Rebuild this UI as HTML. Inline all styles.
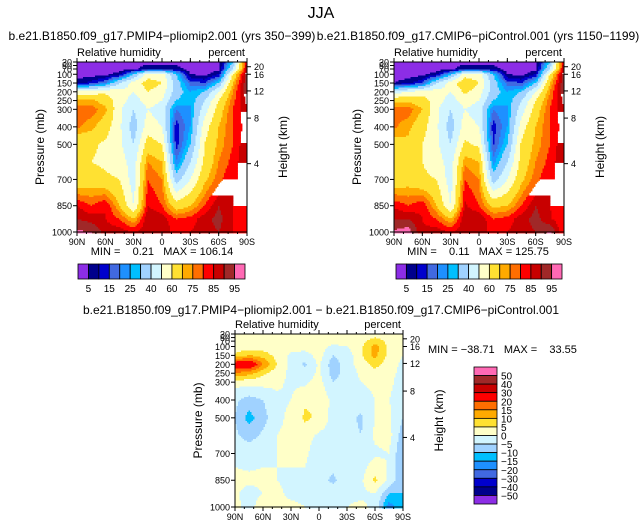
<!DOCTYPE html>
<html><head><meta charset="utf-8"><style>
body{margin:0;background:#fff;}
svg text{font-family:"Liberation Sans",sans-serif;fill:#000;white-space:pre;}
</style></head><body>
<svg id="c" width="643" height="526" viewBox="0 0 643 526" xmlns="http://www.w3.org/2000/svg" xml:space="preserve">
<text x="321" y="18" font-size="16" text-anchor="middle">JJA</text>
</svg>
<script>
const lats=[90,75,60,45,30,15,0,-15,-30,-45,-60,-75,-90];
const levs=[30,70,100,150,200,250,300,400,500,600,700,850,925,1000];
const pliomip=[
[2,2,2,2,2,2,2,2,2,2,2,30,90],
[2,2,2,2,3,10,10,8,2,2,3,40,90],
[2,2,3,8,30,55,55,30,5,3,10,60,95],
[8,12,20,40,55,65,60,35,18,15,30,70,95],
[55,55,58,55,50,60,55,35,25,30,50,75,95],
[72,72,66,55,45,55,50,30,25,40,60,78,92],
[78,78,72,52,40,50,45,20,25,45,65,80,90],
[76,72,65,52,35,55,50,12,25,55,70,80,88],
[62,62,58,52,40,65,60,12,30,60,72,80,90],
[60,60,58,55,45,75,70,20,40,62,75,82,90],
[62,65,62,60,45,80,75,35,50,68,78,85,85],
[85,80,85,70,50,85,80,65,70,80,90,85,80],
[90,88,85,80,70,90,88,80,82,88,92,85,80],
[96,95,88,88,85,88,90,82,85,88,90,85,80]];
const picontrol=[
[2,2,2,2,2,2,2,2,2,2,2,30,90],
[2,2,2,2,3,10,10,8,2,2,3,40,90],
[2,2,3,8,28,55,55,30,5,3,10,60,95],
[5,8,15,40,55,68,60,35,18,15,30,70,95],
[45,50,55,55,50,62,55,35,25,30,50,75,95],
[68,68,65,55,45,55,50,30,25,40,60,78,92],
[77,78,70,52,40,50,45,20,25,45,65,80,90],
[76,72,64,52,35,55,50,12,25,55,70,80,88],
[66,68,60,52,40,62,58,14,30,62,72,80,90],
[62,64,60,55,45,74,70,22,40,64,75,82,90],
[63,66,62,60,45,80,75,35,50,68,78,85,85],
[84,80,84,70,50,86,80,68,70,80,90,85,80],
[90,90,85,80,70,90,90,80,82,88,92,86,80],
[96,98,86,88,85,88,90,82,85,88,90,96,80]];
const diff=[
[2,2,2,2,2,2,2,2,2,2,2,2,0],
[2,2,2,2,2,4,4,2,2,3,8,3,0],
[2,2,2,2,2,2,2,-1,0,4,12,4,0],
[6,10,8,3,-1,-2,2,-5,-3,4,12,3,0],
[25,28,15,5,-2,-6,1,-8,-2,2,7,2,-1],
[15,12,6,2,-1,-3,1,-7,-3,1,3,1,-1],
[2,2,2,1,-1,-1,2,-5,-3,0,1,1,-2],
[-4,-7,-5,-1,0,4,5,-2,-3,-2,0,0,-2],
[-5,-12,-7,-1,1,6,4,-2,-3,-6,0,1,-5],
[-4,-7,-4,0,1,2,-1,-2,-3,-5,1,2,-8],
[-1,-2,-1,0,1,1,-3,-2,-4,-3,-1,0,-10],
[1,1,1,0,-1,-1,-3,-6,-2,-1,6,-1,-10],
[1,-2,0,1,-1,-1,-2,-2,-1,-1,0,-10,-10],
[2,-3,4,1,1,0,-1,-1,0,1,-1,-18,-10]];
const rhLevels=[5,10,15,20,25,30,40,50,60,70,75,80,85,90,95];
const rhLabels=["5","15","25","40","60","75","85","95"];
const diffLevels=[-50,-40,-30,-20,-15,-10,-5,0,5,10,15,20,30,40,50];
const diffLabels=["50","40","30","20","15","10","5","0","\u22125","\u221210","\u221215","\u221220","\u221230","\u221240","\u221250"];
const pTicks=[1000,850,700,500,400,300,250,200,150,100,70,50,30];
const latTicks=[90,60,30,0,-30,-60,-90];
const latLabels=["90N","60N","30N","0","30S","60S","90S"];
const kmTicks=[4,8,12,16,20];
const kmPres=[610,350,195,100,57];
const colors=["#8c2de6","#00008c","#0000cd","#4169e1","#1e90ff","#00bfff","#a0d2ff","#d2f5ff","#ffffc8","#ffe132","#ffaa00","#ff6e00","#ff0000","#c80000","#a02828","#ff69b4"];
const svg=document.getElementById('c');
const NS="http://www.w3.org/2000/svg";
function mk(t,a,p){const e=document.createElementNS(NS,t);for(const k in a)e.setAttribute(k,a[k]);(p||svg).appendChild(e);return e;}
function txt(x,y,s,fs,anchor,p){const e=mk('text',{x:x,y:y,'font-size':fs,'text-anchor':anchor||'start'},p);e.textContent=s;return e;}
function xScale(lat,x0,w){return x0+(90-lat)/180*w;}
function yScale(p,y0,h){return y0+(p-30)/970*h;}
function sample(g,lat,p){
 let i=0;while(i<lats.length-2&&lat<lats[i+1])i++;
 let j=0;while(j<levs.length-2&&p>levs[j+1])j++;
 const tx=(lats[i]-lat)/(lats[i]-lats[i+1]);const ty=(p-levs[j])/(levs[j+1]-levs[j]);
 const a=g[j][i],b=g[j][i+1],c=g[j+1][i],d=g[j+1][i+1];
 return (a*(1-tx)+b*tx)*(1-ty)+(c*(1-tx)+d*tx)*ty;}
function cls(v,L){let k=0;while(k<L.length&&v>=L[k])k++;return k;}
function plot(name,g,L,x0,y0,w,h){
 const gr=mk('g',{});
 
 
 const st=1.5;
 for(let y=0;y<h;y+=st){
  const p=30+(y+st/2)/h*970;let run=-1,start=0;
  for(let x=0;x<=w;x+=st){
   let k=-2;if(x<w){const lat=90-(x+st/2)/w*180;k=cls(sample(g,lat,p),L);}
   if(k!==run){if(run>=0){mk('rect',{x:x0+start,y:y0+y,width:x-start+0.4,height:st+0.4,fill:colors[run]},gr);}run=k;start=x;}
  }
 }
 mk('rect',{x:x0,y:y0,width:w,height:h,fill:'none',stroke:'#000','stroke-width':1},gr);
 for(const p of pTicks){const y=yScale(p,y0,h);mk('line',{x1:x0-4,x2:x0,y1:y,y2:y,stroke:'#000'},gr);
  txt(x0-5,y+3.5,String(p),9,'end',gr);}
 for(let i=0;i<latTicks.length;i++){const x=xScale(latTicks[i],x0,w);
  mk('line',{x1:x,x2:x,y1:y0+h,y2:y0+h+4,stroke:'#000'},gr);mk('line',{x1:x,x2:x,y1:y0,y2:y0-4,stroke:'#000'},gr);
  txt(x,y0+h+13,latLabels[i],9,'middle',gr);}
 for(let l=80;l>-90;l-=10){const x=xScale(l,x0,w);mk('line',{x1:x,x2:x,y1:y0+h,y2:y0+h+2,stroke:'#000'},gr);mk('line',{x1:x,x2:x,y1:y0,y2:y0-2,stroke:'#000'},gr);}
 for(let i=0;i<kmTicks.length;i++){const y=yScale(kmPres[i],y0,h);mk('line',{x1:x0+w,x2:x0+w+4,y1:y,y2:y,stroke:'#000'},gr);
  txt(x0+w+7,y+3.5,String(kmTicks[i]),9,'start',gr);}
 txt(x0-33,y0+h/2,'Pressure (mb)',12,'middle',gr).setAttribute('transform','rotate(-90 '+(x0-33)+' '+(y0+h/2)+')');
 txt(x0+w+40,y0+h/2,'Height (km)',12,'middle',gr).setAttribute('transform','rotate(-90 '+(x0+w+40)+' '+(y0+h/2)+')');
 txt(x0,y0-6,'Relative humidity',11,'start',gr);
 txt(x0+w-2,y0-6,'percent',11,'end',gr);
}
function hbar(name,x0,y0,w,h){
 const gr=mk('g',{});
 
 
 const bw=w/16;
 for(let i=0;i<16;i++)mk('rect',{x:x0+i*bw,y:y0,width:bw,height:h,fill:colors[i],stroke:'#000','stroke-width':0.8},gr);
 for(let i=0;i<rhLabels.length;i++)txt(x0+(2*i+1)*bw,y0+h+13,rhLabels[i],10,'middle',gr);
}
txt(162,40,'b.e21.B1850.f09_g17.PMIP4\u2212pliomip2.001 (yrs 350\u2212399)',12,'middle');
plot('left-contour-plot',pliomip,rhLevels,77,62,170,170);
txt(162,255,'MIN =    0.21   MAX = 106.14',11,'middle');
hbar('left-colorbar',78,264,167,15);
txt(478,40,'b.e21.B1850.f09_g17.CMIP6\u2212piControl.001 (yrs 1150\u22121199)',12,'middle');
plot('right-contour-plot',picontrol,rhLevels,394,62,170,170);
txt(478,255,'MIN =    0.11   MAX = 125.75',11,'middle');
hbar('right-colorbar',396,264,166,15);
txt(321,314,'b.e21.B1850.f09_g17.PMIP4\u2212pliomip2.001 \u2212 b.e21.B1850.f09_g17.CMIP6\u2212piControl.001',12,'middle');
plot('diff-contour-plot',diff,diffLevels,235,334,168,173);
txt(428,353,'MIN = \u221238.71   MAX =    33.55',11,'start');
(function(){
 const gr=mk('g',{});
 
 
 const x0=474,y0=367,w=23,bh=(504-367)/16;
 for(let i=0;i<16;i++)mk('rect',{x:x0,y:y0+i*bh,width:w,height:bh,fill:colors[15-i],stroke:'#000','stroke-width':0.8},gr);
 for(let i=0;i<diffLabels.length;i++)txt(x0+w+4,y0+(i+1)*bh+4,diffLabels[i],10,'start',gr);
})();
</script>
</body></html>
